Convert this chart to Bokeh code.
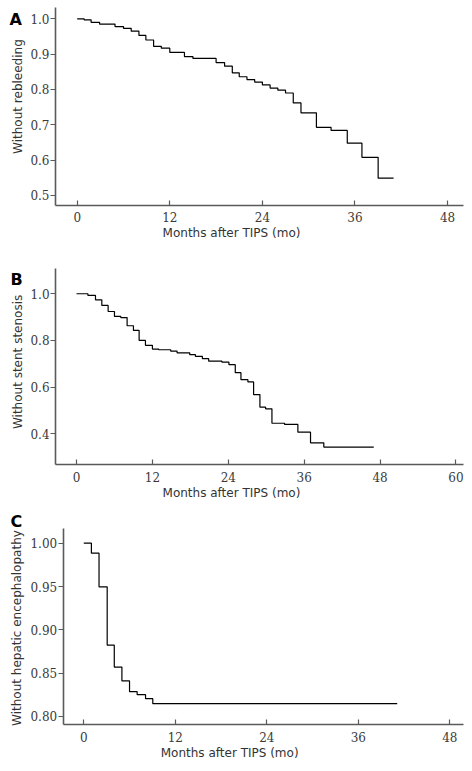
import math
from bokeh.plotting import figure
from bokeh.layouts import column
from bokeh.models import Range1d, FixedTicker, PrintfTickFormatter, Label
from bokeh.embed import file_html
from bokeh.resources import INLINE

# ---- Panel A: without rebleeding ----
a_times = [0, 0.9, 1.8, 2.9, 4.9, 6.0, 7.0, 8.0, 8.9, 9.9, 10.9, 12.0, 13.9, 15.0,
           18.0, 19.1, 20.1, 21.0, 22.0, 23.0, 24.0, 25.0, 26.0, 27.0, 28.0, 29.0,
           31.0, 32.9, 35.0, 36.9, 39.0]
a_surv = [1.0, 0.997, 0.99, 0.985, 0.978, 0.973, 0.965, 0.953, 0.94, 0.922, 0.917,
          0.905, 0.893, 0.888, 0.876, 0.866, 0.847, 0.836, 0.828, 0.821, 0.813,
          0.804, 0.798, 0.79, 0.762, 0.734, 0.693, 0.684, 0.648, 0.608, 0.549]
a_end = 41.0
a_xticks = [0, 12, 24, 36, 48]
a_yticks = [0.5, 0.6, 0.7, 0.8, 0.9, 1.0]

# ---- Panel B: without stent stenosis ----
b_times = [0, 1.8, 3.0, 4.0, 5.0, 6.0, 7.0, 8.0, 9.0, 9.9, 10.9, 12.0, 13.0, 14.9,
           15.9, 17.9, 18.8, 19.9, 20.9, 23.0, 24.1, 25.1, 26.0, 27.1, 28.0, 29.0,
           29.9, 30.9, 32.9, 35.0, 37.0, 39.1]
b_surv = [1.0, 0.993, 0.974, 0.95, 0.924, 0.903, 0.898, 0.863, 0.843, 0.8, 0.779,
          0.763, 0.76, 0.754, 0.747, 0.739, 0.732, 0.722, 0.711, 0.707, 0.696,
          0.662, 0.632, 0.622, 0.568, 0.514, 0.507, 0.445, 0.44, 0.407, 0.361, 0.343]
b_end = 47.0
b_xticks = [0, 12, 24, 36, 48, 60]
b_yticks = [0.4, 0.6, 0.8, 1.0]

# ---- Panel C: without hepatic encephalopathy ----
c_times = [0, 1.0, 2.0, 3.07, 4.0, 5.0, 6.0, 7.0, 8.1, 9.05]
c_surv = [1.0, 0.9885, 0.9497, 0.8823, 0.857, 0.841, 0.8286, 0.8252, 0.8206, 0.8148]
c_end = 41.1
c_xticks = [0, 12, 24, 36, 48]
c_yticks = [0.80, 0.85, 0.90, 0.95, 1.00]

x_title = "Months after TIPS (mo)"
panel_letters = ["A", "B", "C"]
y_titles = ["Without rebleeding", "Without stent stenosis", "Without hepatic encephalopathy"]

AXIS_COLOR = "#5a5a5a"
FIG_W = 468

# layout (data-space placement of axes and texts for each panel)
LAYOUT = {
    "A": dict(h=248, xr=(-9.939, 50.71), yr=(0.350, 1.0518),
              ax_x=-2.81, ax_y=0.4717, xb=(-2.81, 50.02), yb=(0.4717, 1.032),
              letter=(-8.77, 0.998), ytitle=(-7.67, 0.780), xtitle=(20.0, 0.394),
              yfmt="%.1f"),
    "B": dict(h=252, xr=(-12.02, 61.98), yr=(0.114, 1.194),
              ax_x=-3.32, ax_y=0.267, xb=(-3.32, 61.14), yb=(0.267, 1.107),
              letter=(-10.43, 1.061), ytitle=(-9.25, 0.708), xtitle=(24.5, 0.1453),
              yfmt="%.1f"),
    "C": dict(h=271, xr=(-10.92, 50.45), yr=(0.7365, 1.0493),
              ax_x=-2.70, ax_y=0.7904, xb=(-2.70, 49.76), yb=(0.7904, 1.0165),
              letter=(-9.61, 1.0245), ytitle=(-8.79, 0.9021), xtitle=(19.13, 0.7576),
              yfmt="%.2f"),
}


def make_panel(key, times, surv, end, xticks, yticks, letter, ylabel):
    L = LAYOUT[key]
    p = figure(width=FIG_W, height=L["h"], output_backend="svg", toolbar_location=None,
               x_range=Range1d(*L["xr"]), y_range=Range1d(*L["yr"]),
               min_border_left=0, min_border_right=0,
               min_border_top=0, min_border_bottom=0)
    p.outline_line_color = None
    p.grid.visible = False
    p.background_fill_color = "white"
    p.border_fill_color = "white"

    xs = list(times) + [end]
    ys = list(surv) + [surv[-1]]
    p.step(xs, ys, mode="after", line_color="black", line_width=1.2)

    for ax in (p.xaxis[0], p.yaxis[0]):
        ax.axis_line_color = AXIS_COLOR
        ax.axis_line_width = 1.6
        ax.major_tick_line_color = AXIS_COLOR
        ax.major_tick_line_width = 1.2
        ax.minor_tick_line_color = None
        ax.major_label_text_font = "DejaVu Serif"
        ax.major_label_text_font_size = "12px"
        ax.major_label_text_color = "#3a3a3a"

    xa = p.xaxis[0]
    xa.fixed_location = L["ax_y"]
    xa.bounds = L["xb"]
    xa.ticker = FixedTicker(ticks=xticks)
    xa.major_tick_in = 5
    xa.major_tick_out = 0
    xa.major_label_standoff = 7

    ya = p.yaxis[0]
    ya.fixed_location = L["ax_x"]
    ya.bounds = L["yb"]
    ya.ticker = FixedTicker(ticks=yticks)
    ya.major_tick_in = 0
    ya.major_tick_out = 5
    ya.major_label_standoff = 1
    ya.formatter = PrintfTickFormatter(format=L["yfmt"])

    # panel letter
    p.add_layout(Label(x=L["letter"][0], y=L["letter"][1], text=letter,
                       text_font="DejaVu Sans", text_font_style="bold",
                       text_font_size="16px", text_color="black",
                       text_align="left", text_baseline="middle"))
    # y title (rotated)
    p.add_layout(Label(x=L["ytitle"][0], y=L["ytitle"][1], text=ylabel, angle=math.pi / 2,
                       text_font="DejaVu Sans", text_font_size="12px", text_color="#333333",
                       text_align="center", text_baseline="middle"))
    # x title
    p.add_layout(Label(x=L["xtitle"][0], y=L["xtitle"][1], text=x_title,
                       text_font="DejaVu Sans", text_font_size="12px", text_color="#333333",
                       text_align="center", text_baseline="middle"))
    return p


pA = make_panel("A", a_times, a_surv, a_end, a_xticks, a_yticks, panel_letters[0], y_titles[0])
pB = make_panel("B", b_times, b_surv, b_end, b_xticks, b_yticks, panel_letters[1], y_titles[1])
pC = make_panel("C", c_times, c_surv, c_end, c_xticks, c_yticks, panel_letters[2], y_titles[2])

layout = column(pA, pB, pC, spacing=0)
open("out.html", "w").write(file_html(layout, INLINE))
